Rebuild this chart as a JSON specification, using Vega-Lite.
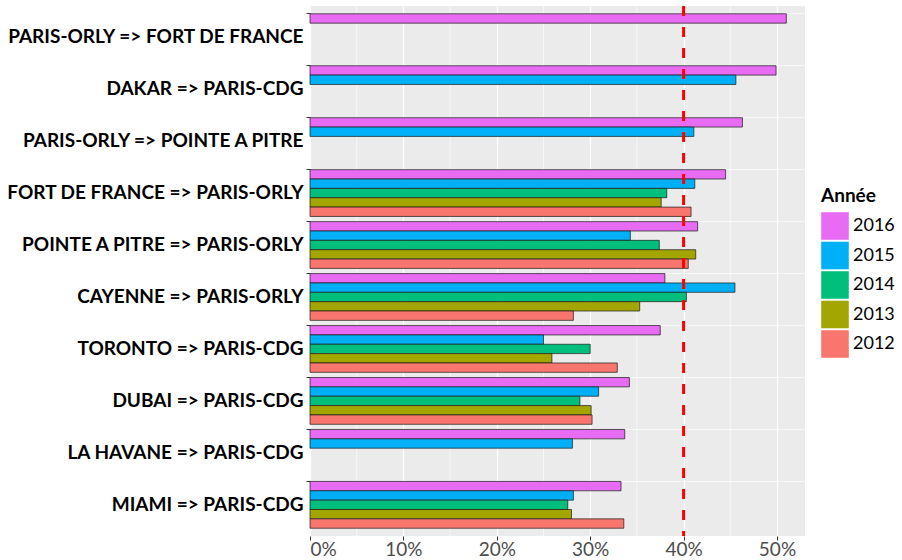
{
  "$schema": "https://vega.github.io/schema/vega-lite/v6.json",
  "autosize": {"type": "none"},
  "width": 495,
  "height": 530,
  "padding": {"left": 310, "top": 6, "right": 97, "bottom": 24},
  "background": "white",
  "config": {
    "view": {"fill": "#EBEBEB", "stroke": null},
    "font": "Lato"
  },
  "data": {
    "values": [
      {"route": "PARIS-ORLY => FORT DE FRANCE", "year": "2016", "value": 0.510},
      {"route": "DAKAR => PARIS-CDG", "year": "2016", "value": 0.499},
      {"route": "DAKAR => PARIS-CDG", "year": "2015", "value": 0.456},
      {"route": "PARIS-ORLY => POINTE A PITRE", "year": "2016", "value": 0.463},
      {"route": "PARIS-ORLY => POINTE A PITRE", "year": "2015", "value": 0.411},
      {"route": "FORT DE FRANCE => PARIS-ORLY", "year": "2016", "value": 0.445},
      {"route": "FORT DE FRANCE => PARIS-ORLY", "year": "2015", "value": 0.412},
      {"route": "FORT DE FRANCE => PARIS-ORLY", "year": "2014", "value": 0.382},
      {"route": "FORT DE FRANCE => PARIS-ORLY", "year": "2013", "value": 0.376},
      {"route": "FORT DE FRANCE => PARIS-ORLY", "year": "2012", "value": 0.408},
      {"route": "POINTE A PITRE => PARIS-ORLY", "year": "2016", "value": 0.415},
      {"route": "POINTE A PITRE => PARIS-ORLY", "year": "2015", "value": 0.343},
      {"route": "POINTE A PITRE => PARIS-ORLY", "year": "2014", "value": 0.374},
      {"route": "POINTE A PITRE => PARIS-ORLY", "year": "2013", "value": 0.413},
      {"route": "POINTE A PITRE => PARIS-ORLY", "year": "2012", "value": 0.405},
      {"route": "CAYENNE => PARIS-ORLY", "year": "2016", "value": 0.380},
      {"route": "CAYENNE => PARIS-ORLY", "year": "2015", "value": 0.455},
      {"route": "CAYENNE => PARIS-ORLY", "year": "2014", "value": 0.403},
      {"route": "CAYENNE => PARIS-ORLY", "year": "2013", "value": 0.353},
      {"route": "CAYENNE => PARIS-ORLY", "year": "2012", "value": 0.282},
      {"route": "TORONTO => PARIS-CDG", "year": "2016", "value": 0.375},
      {"route": "TORONTO => PARIS-CDG", "year": "2015", "value": 0.250},
      {"route": "TORONTO => PARIS-CDG", "year": "2014", "value": 0.300},
      {"route": "TORONTO => PARIS-CDG", "year": "2013", "value": 0.259},
      {"route": "TORONTO => PARIS-CDG", "year": "2012", "value": 0.329},
      {"route": "DUBAI => PARIS-CDG", "year": "2016", "value": 0.342},
      {"route": "DUBAI => PARIS-CDG", "year": "2015", "value": 0.309},
      {"route": "DUBAI => PARIS-CDG", "year": "2014", "value": 0.289},
      {"route": "DUBAI => PARIS-CDG", "year": "2013", "value": 0.301},
      {"route": "DUBAI => PARIS-CDG", "year": "2012", "value": 0.302},
      {"route": "LA HAVANE => PARIS-CDG", "year": "2016", "value": 0.337},
      {"route": "LA HAVANE => PARIS-CDG", "year": "2015", "value": 0.281},
      {"route": "MIAMI => PARIS-CDG", "year": "2016", "value": 0.333},
      {"route": "MIAMI => PARIS-CDG", "year": "2015", "value": 0.282},
      {"route": "MIAMI => PARIS-CDG", "year": "2014", "value": 0.276},
      {"route": "MIAMI => PARIS-CDG", "year": "2013", "value": 0.280},
      {"route": "MIAMI => PARIS-CDG", "year": "2012", "value": 0.336}
    ]
  },
  "layer": [
    {
      "data": {"values": [{"m": 0.05}, {"m": 0.15}, {"m": 0.25}, {"m": 0.35}, {"m": 0.45}]},
      "mark": {"type": "rule", "color": "white", "strokeWidth": 0.6},
      "encoding": {
        "x": {"field": "m", "type": "quantitative"}
      }
    },
    {
      "mark": {"type": "bar", "stroke": "#1a1a1a", "strokeWidth": 0.7, "strokeOpacity": 1},
      "encoding": {
        "y": {
          "field": "route",
          "type": "nominal",
          "sort": [
            "PARIS-ORLY => FORT DE FRANCE",
            "DAKAR => PARIS-CDG",
            "PARIS-ORLY => POINTE A PITRE",
            "FORT DE FRANCE => PARIS-ORLY",
            "POINTE A PITRE => PARIS-ORLY",
            "CAYENNE => PARIS-ORLY",
            "TORONTO => PARIS-CDG",
            "DUBAI => PARIS-CDG",
            "LA HAVANE => PARIS-CDG",
            "MIAMI => PARIS-CDG"
          ],
          "scale": {"paddingInner": 0.1, "paddingOuter": 0.15},
          "axis": {
            "title": null,
            "domain": false,
            "grid": true,
            "bandPosition": 0,
            "gridColor": "white",
            "gridWidth": 0.6,
            "tickColor": "#333333",
            "tickSize": 4,
            "tickWidth": 1,
            "labelFont": "Lato",
            "labelFontWeight": "bold",
            "labelFontSize": 19,
            "labelColor": "#000000",
            "labelPadding": 3,
            "labelLimit": 400
          }
        },
        "yOffset": {
          "field": "year",
          "type": "nominal",
          "scale": {"domain": ["2016", "2015", "2014", "2013", "2012"], "paddingInner": 0, "paddingOuter": 0}
        },
        "x": {
          "field": "value",
          "type": "quantitative",
          "scale": {"domain": [0, 0.53], "nice": false, "zero": true},
          "axis": {
            "title": null,
            "values": [0, 0.1, 0.2, 0.3, 0.4, 0.5],
            "format": ".0%",
            "domain": false,
            "grid": true,
            "gridColor": "white",
            "gridWidth": 1.2,
            "tickColor": "#333333",
            "tickSize": 4,
            "tickWidth": 1,
            "labelFont": "Lato",
            "labelFontSize": 19,
            "labelColor": "#4D4D4D",
            "labelPadding": 0
          }
        },
        "color": {
          "field": "year",
          "type": "nominal",
          "scale": {
            "domain": ["2016", "2015", "2014", "2013", "2012"],
            "range": ["#E76BF3", "#00B0F6", "#00BF7D", "#A3A500", "#F8766D"]
          },
          "legend": {
            "title": "Année",
            "orient": "none",
            "legendX": 511,
            "legendY": 181,
            "titleFont": "Lato",
            "titleFontSize": 19,
            "titleFontWeight": "bold",
            "titleColor": "#000000",
            "titlePadding": 6,
            "symbolType": "square",
            "symbolSize": 760,
            "symbolStrokeWidth": 0,
            "symbolOpacity": 1,
            "rowPadding": 1.5,
            "labelFont": "Lato",
            "labelFontSize": 18,
            "labelColor": "#000000",
            "labelOffset": 4
          }
        }
      }
    },
    {
      "data": {"values": [{"ref": 0.4}]},
      "mark": {"type": "rule", "color": "#FF0000", "strokeWidth": 3, "strokeDash": [10, 11]},
      "encoding": {
        "x": {"field": "ref", "type": "quantitative"}
      }
    }
  ]
}
